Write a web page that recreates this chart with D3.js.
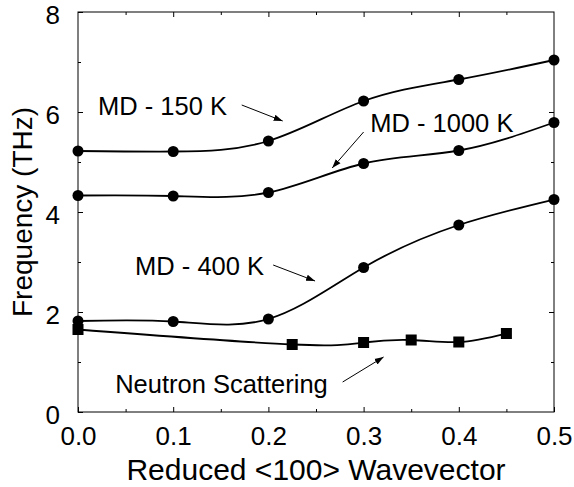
<!DOCTYPE html>
<html>
<head>
<meta charset="utf-8">
<script src="https://cdn.jsdelivr.net/npm/d3@7"></script>
<style>
  body { margin: 0; background: #fff; }
  svg { display: block; font-family: "Liberation Sans", Arial, sans-serif; }
</style>
</head>
<body>
<svg id="chart" width="574" height="487"></svg>
<script>
// values
var wavevector = [0, 0.1, 0.2, 0.3, 0.4, 0.5];
var md150 = [5.22, 5.21, 5.42, 6.22, 6.65, 7.04];
var md1000 = [4.33, 4.32, 4.39, 4.97, 5.23, 5.79];
var md400 = [1.82, 1.81, 1.86, 2.89, 3.74, 4.25];
var neutronQ = [0, 0.225, 0.3, 0.35, 0.4, 0.45];
var neutronF = [1.65, 1.35, 1.39, 1.44, 1.40, 1.57];

var xTicks = [0, 0.1, 0.2, 0.3, 0.4, 0.5];
var yTicks = [0, 2, 4, 6, 8];

var svg = d3.select("#chart"),
    margin = {top: 12, right: 20, bottom: 75, left: 78},
    width = 574 - margin.left - margin.right,
    height = 487 - margin.top - margin.bottom;

var g = svg.append("g").attr("transform", "translate(" + margin.left + "," + margin.top + ")");

var x = d3.scaleLinear().domain([0, 0.5]).range([0, width]);
var y = d3.scaleLinear().domain([0, 8]).range([height, 0]);

// frame
g.append("rect")
    .attr("width", width).attr("height", height)
    .attr("fill", "none").attr("stroke", "#000").attr("stroke-width", 1);

// inward ticks on all four sides
var xMinor = d3.range(0.05, 0.5, 0.1);
var yMinor = d3.range(1, 8, 2);

function xTickAxis(axis, vals, len, labels) {
  return axis(x).tickValues(vals).tickSizeInner(-len).tickSizeOuter(0)
      .tickFormat(labels ? d3.format(".1f") : "");
}
function yTickAxis(axis, vals, len, labels) {
  return axis(y).tickValues(vals).tickSizeInner(-len).tickSizeOuter(0)
      .tickFormat(labels ? d3.format("d") : "");
}

var axes = [
  g.append("g").attr("transform", "translate(0," + height + ")").call(xTickAxis(d3.axisBottom, xTicks, 5, true)),
  g.append("g").attr("transform", "translate(0," + height + ")").call(xTickAxis(d3.axisBottom, xMinor, 3, false)),
  g.append("g").call(xTickAxis(d3.axisTop, xTicks.slice(1, -1), 5, false)),
  g.append("g").call(xTickAxis(d3.axisTop, xMinor, 3, false)),
  g.append("g").call(yTickAxis(d3.axisLeft, yTicks, 5, true)),
  g.append("g").call(yTickAxis(d3.axisLeft, yMinor, 3, false)),
  g.append("g").attr("transform", "translate(" + width + ",0)").call(yTickAxis(d3.axisRight, yTicks.slice(1, -1), 5, false)),
  g.append("g").attr("transform", "translate(" + width + ",0)").call(yTickAxis(d3.axisRight, yMinor, 3, false))
];
axes.forEach(function(a) {
  a.select(".domain").remove();
  a.selectAll(".tick line").attr("stroke", "#000");
  a.selectAll("text").attr("fill", "#000").style("font-size", "26px");
});
axes[0].selectAll("text").attr("dy", "0.71em").attr("y", 15);
axes[4].selectAll("text").attr("x", -18).attr("dy", "0.45em");

// axis titles
g.append("text")
    .attr("x", width / 2).attr("y", 468)
    .attr("text-anchor", "middle")
    .style("font-size", "30px")
    .text("Reduced <100> Wavevector");

g.append("text")
    .attr("transform", "translate(-46," + (height / 2) + ") rotate(-90)")
    .attr("text-anchor", "middle")
    .style("font-size", "28px")
    .text("Frequency (THz)");

// curves
var line = d3.line()
    .x(function(d) { return x(d[0]); })
    .y(function(d) { return y(d[1]); })
    .curve(d3.curveNatural);

var mdSeries = [md150, md1000, md400];
mdSeries.forEach(function(vals) {
  var pts = d3.zip(wavevector, vals);
  g.append("path").datum(pts)
      .attr("fill", "none").attr("stroke", "#000").attr("stroke-width", 1.8)
      .attr("d", line);
  g.selectAll(null).data(pts).enter().append("circle")
      .attr("cx", function(d) { return x(d[0]); })
      .attr("cy", function(d) { return y(d[1]); })
      .attr("r", 5.5).attr("fill", "#000");
});

var nPts = d3.zip(neutronQ, neutronF);
g.append("path").datum(nPts)
    .attr("fill", "none").attr("stroke", "#000").attr("stroke-width", 1.8)
    .attr("d", line);
g.selectAll(null).data(nPts).enter().append("rect")
    .attr("x", function(d) { return x(d[0]) - 5.5; })
    .attr("y", function(d) { return y(d[1]) - 5.5; })
    .attr("width", 11).attr("height", 11).attr("fill", "#000");

// annotations (data coordinates)
svg.append("defs").append("marker")
    .attr("id", "head").attr("viewBox", "0 0 10 10")
    .attr("refX", 10).attr("refY", 5)
    .attr("markerWidth", 9).attr("markerHeight", 9)
    .attr("markerUnits", "userSpaceOnUse")
    .attr("orient", "auto")
  .append("path").attr("d", "M0,1.5L10,5L0,8.5Z").attr("fill", "#000");

var notes = [
  {label: "MD - 150 K", tx: 0.021, ty: 5.94, a: [0.172, 6.14, 0.215, 5.82]},
  {label: "MD - 1000 K", tx: 0.307, ty: 5.60, a: [0.300, 5.60, 0.267, 4.88]},
  {label: "MD - 400 K", tx: 0.060, ty: 2.74, a: [0.205, 2.94, 0.249, 2.62]},
  {label: "Neutron Scattering", tx: 0.039, ty: 0.38, a: [0.278, 0.60, 0.321, 1.10]}
];
notes.forEach(function(n) {
  g.append("text").attr("x", x(n.tx)).attr("y", y(n.ty))
      .style("font-size", "25.5px").text(n.label);
  g.append("line")
      .attr("x1", x(n.a[0])).attr("y1", y(n.a[1]))
      .attr("x2", x(n.a[2])).attr("y2", y(n.a[3]))
      .attr("stroke", "#000").attr("stroke-width", 1)
      .attr("marker-end", "url(#head)");
});
</script>
</body>
</html>
